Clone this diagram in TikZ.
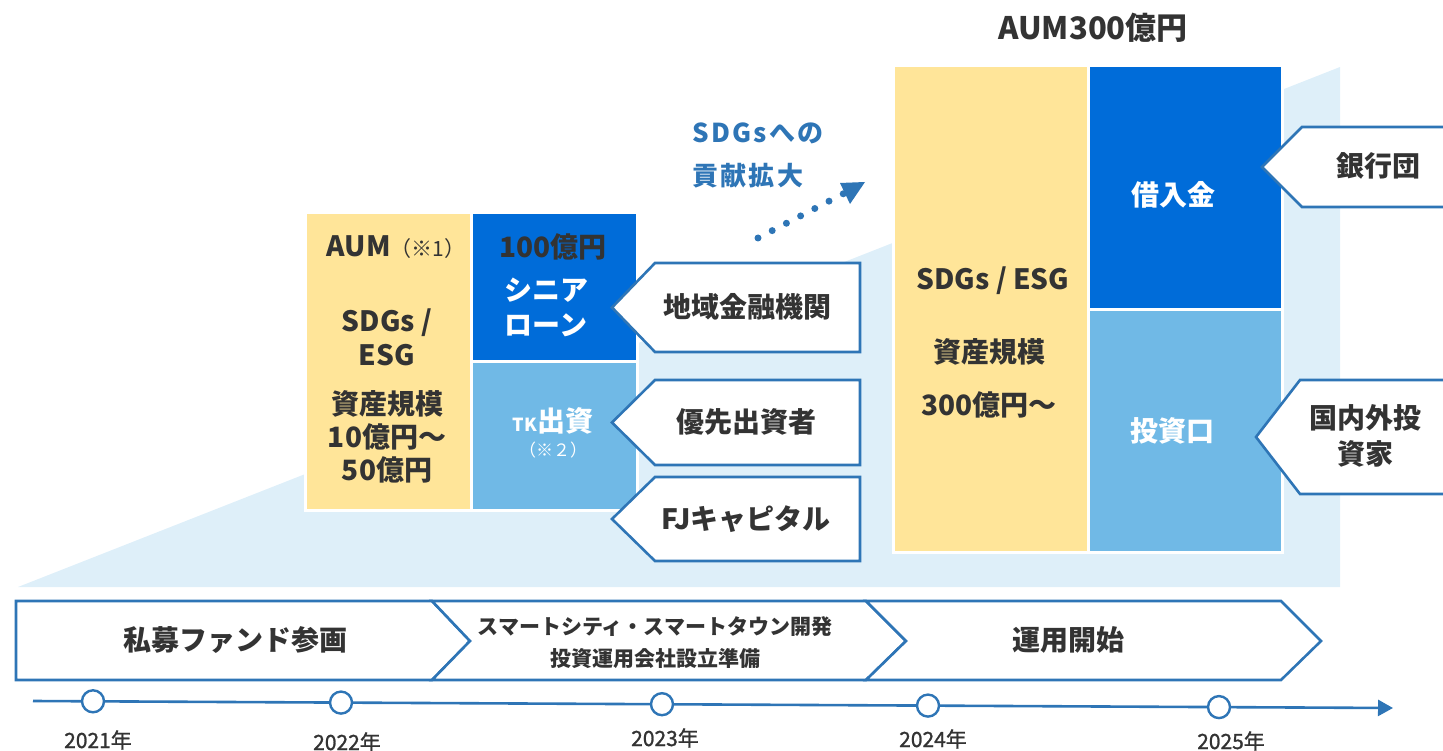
\documentclass[tikz,border=0pt]{standalone}
\usepackage{fontspec}
\setmainfont{Noto Sans CJK JP}
\usetikzlibrary{arrows.meta,calc}
\definecolor{band}{RGB}{222,239,249}
\definecolor{yel}{RGB}{255,229,153}
\definecolor{dblue}{RGB}{0,108,217}
\definecolor{lblue}{RGB}{112,185,230}
\definecolor{lineblue}{RGB}{46,117,182}
\definecolor{txt}{RGB}{51,51,51}
\newcommand{\fsz}[1]{\fontsize{#1}{#1}\selectfont}
\newcommand{\fszb}[2]{\fontsize{#1}{#2}\selectfont}
\tikzset{
  box/.style={draw=white, line width=3pt, inner sep=0pt, anchor=north west},
  callout/.style={draw=lineblue, fill=white, line width=2.6pt, line join=miter},
  chev/.style={draw=lineblue, fill=white, line width=2.6pt, line join=miter},
  big/.style={font=\bfseries\fsz{28}, text=txt, align=center, inner sep=0pt},
  wbig/.style={font=\bfseries\fsz{28}, text=white, align=center, inner sep=0pt},
  mid/.style={font=\bfseries\fsz{21}, text=txt, align=center, inner sep=0pt},
  year/.style={font=\fsz{21}\addfontfeature{FakeBold=1.2}, text=txt, inner sep=0pt},
  tick/.style={circle, draw=lineblue, fill=white, line width=2.4pt, minimum size=22pt, inner sep=0pt},
}
\begin{document}
\begin{tikzpicture}[x=1pt,y=-1pt]
\useasboundingbox (0,0) rectangle (1443,751);
% background band
\fill[band] (18,587) -- (1340,67) -- (1340,587) -- cycle;

% left stack
\node[box, fill=yel, minimum width=166pt, minimum height=298pt] (ly) at (304,211) {};
\node[box, fill=dblue, minimum width=166pt, minimum height=149pt] (lb) at (470,211) {};
\node[box, fill=lblue, minimum width=166pt, minimum height=149pt] (ll) at (470,360) {};

\node[big] (aum1) at (396,247) {AUM{\mdseries\fsz{21}（※1）}};
\node[big, font=\bfseries\fszb{28}{34}] (sdg1) at (387,337) {SDGs /\\ESG};
\node[big, font=\bfseries\fszb{28}{33}] (siz1) at (387,437) {資産規模\\10億円～\\50億円};
\node[big] (hyaku) at (553,247) {100億円};
\node[wbig, font=\bfseries\fszb{28}{35}] (senior) at (546,307) {シニア\\ローン};
\node[wbig] (tk) at (553,421) {{\fsz{18}TK}出資};
\node[wbig, font=\fsz{17}] (note2) at (553,450) {（※２）};

% left callouts
\draw[callout] (655,263) -- (860,263) -- (860,352) -- (655,352) -- (612,307.5) -- cycle;
\node[big] (c1) at (747,307) {地域金融機関};
\draw[callout] (655,380) -- (860,380) -- (860,465) -- (655,465) -- (612,422.5) -- cycle;
\node[big] (c2) at (746,422) {優先出資者};
\draw[callout] (655,477) -- (860,477) -- (860,561) -- (655,561) -- (612,519) -- cycle;
\node[big] (c3) at (746,519) {FJキャピタル};

% SDGs contribution
\node[font=\bfseries\fszb{26}{43}\addfontfeature{LetterSpace=9}, text=lineblue, align=left, inner sep=0pt, anchor=west] (contrib) at (692,155) {SDGsへの\\貢献拡大};
\coordinate (ds) at (758,238);
\coordinate (de) at (864,183);
\draw[lineblue, line width=7pt, line cap=round, dash pattern=on 0pt off 16pt] (ds) -- ($(ds)!0.84!(de)$);
\fill[lineblue] (840,183) -- (865,182) -- (850,204) -- cycle;

% right stack
\node[big, font=\bfseries\fsz{31}] (aum3) at (1093,28) {AUM300億円};
\node[box, fill=yel, minimum width=195pt, minimum height=487pt] (ry) at (892,64) {};
\node[box, fill=dblue, minimum width=194pt, minimum height=244pt] (rb) at (1087,64) {};
\node[box, fill=lblue, minimum width=194pt, minimum height=243pt] (rl) at (1087,308) {};
\node[big] (sdg3) at (993,281) {SDGs / ESG};
\node[big] (siz3) at (989,352) {資産規模};
\node[big] (siz3b) at (989,405) {300億円～};
\node[wbig] (kari) at (1173,195) {借入金};
\node[wbig] (toushi) at (1172,431) {投資口};

% right callouts
\draw[callout] (1302,127) -- (1452,127) -- (1452,207) -- (1302,207) -- (1262,167) -- cycle;
\node[big] (bank) at (1378,166) {銀行団};
\draw[callout] (1300,380) -- (1452,380) -- (1452,494) -- (1300,494) -- (1256,437) -- cycle;
\node[big, font=\bfseries\fszb{28}{36}] (inv) at (1365,436) {国内外投\\資家};

% timeline chevrons
\draw[chev] (16,601) -- (432,601) -- (470,641) -- (432,680) -- (16,680) -- cycle;
\draw[chev] (432,601) -- (866,601) -- (906,641) -- (866,680) -- (432,680) -- (470,641) -- cycle;
\draw[chev] (866,601) -- (1281,601) -- (1321,641) -- (1281,680) -- (866,680) -- (906,641) -- cycle;
\node[big] (p1) at (235,640) {私募ファンド参画};
\node[mid] (p2a) at (655,627) {スマートシティ・スマートタウン開発};
\node[mid] (p2b) at (655,659) {投資運用会社設立準備};
\node[big] (p3) at (1068,640) {運用開始};

% timeline axis
\coordinate (ts) at (33,701);
\coordinate (te) at (1393,708);
\draw[lineblue, line width=2.6pt, -{Triangle[length=15pt,width=16pt]}] (ts) -- (te);
\node[tick] (t1) at (93,701.3) {};
\node[tick] (t2) at (341,702.6) {};
\node[tick] (t3) at (662,704.2) {};
\node[tick] (t4) at (928,705.6) {};
\node[tick] (t5) at (1219,707.1) {};
\node[year] (y1) at (98,740) {2021年};
\node[year] (y2) at (347,742) {2022年};
\node[year] (y3) at (665,738) {2023年};
\node[year] (y4) at (933,739) {2024年};
\node[year] (y5) at (1231,741) {2025年};
\end{tikzpicture}
\end{document}
